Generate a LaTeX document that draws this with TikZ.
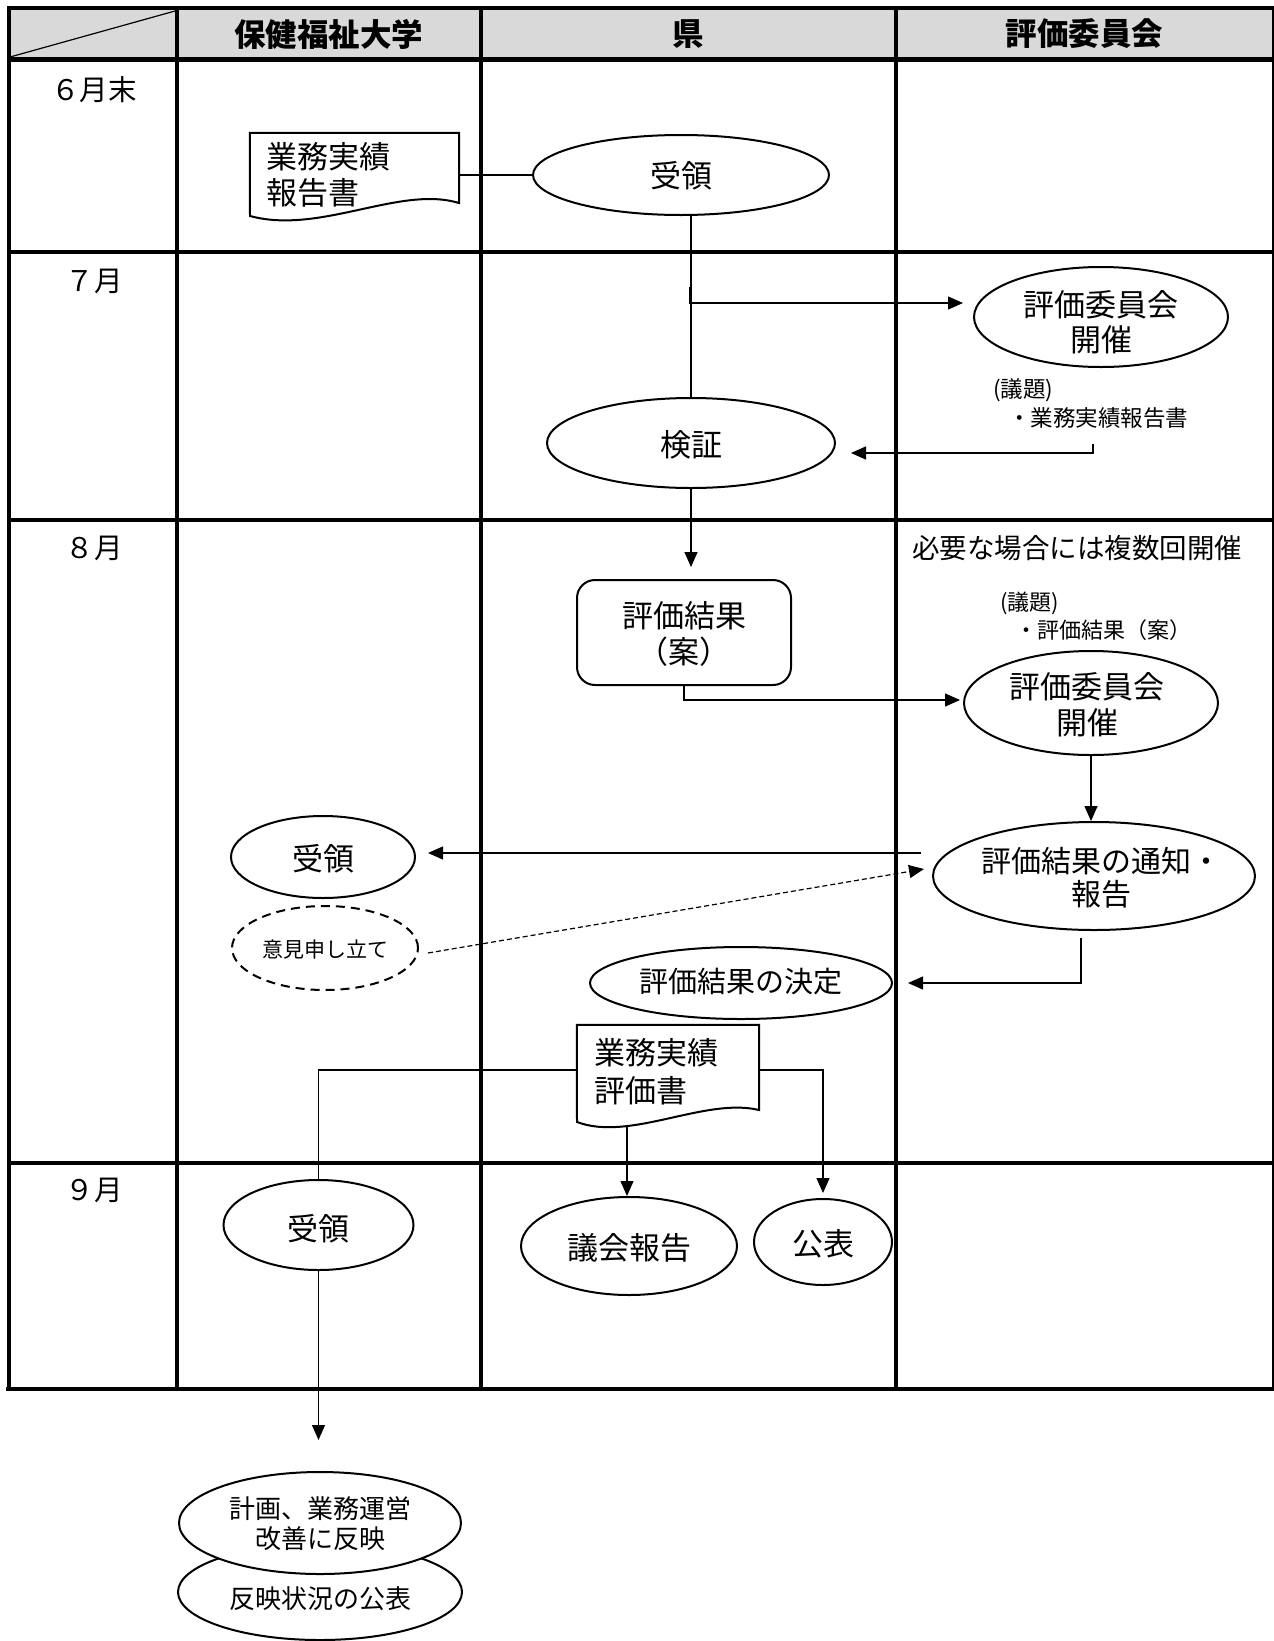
\documentclass[tikz,border=0pt]{standalone}
\usepackage{fontspec}
\setmainfont{Noto Sans CJK JP}
\usetikzlibrary{arrows.meta,shapes.geometric}
\begin{document}
\begin{tikzpicture}[x=1pt,y=-1pt,
  ell/.style={ellipse, draw, line width=2pt, fill=white, inner sep=0pt},
  con/.style={line width=1.2pt},
  arr/.style={con, -{Triangle[length=15pt,width=13pt]}},
  txt/.style={inner sep=0pt, align=center},
  f31/.style={font=\fontsize{31}{36}\selectfont},
  f29/.style={font=\fontsize{29}{32}\selectfont},
  f27/.style={font=\fontsize{28.5}{32}\selectfont},
  f26/.style={font=\fontsize{26}{30}\selectfont},
  f23/.style={font=\fontsize{22.5}{27}\selectfont},
  f21/.style={font=\fontsize{21}{25}\selectfont},
  hd/.style={inner sep=0pt, font=\fontsize{31.5}{36}\selectfont\bfseries},
  hline/.style={line width=4.5pt},
  vline/.style={line width=3.5pt}
]
\useasboundingbox (0,0) rectangle (1274,1641);
% header background
\fill[black!15] (9,8) rectangle (1273,59.5);
% grid
\draw[hline] (7,8) -- (1274,8);
\draw[hline] (7,59.5) -- (1274,59.5);
\draw[hline] (7,252) -- (1274,252);
\draw[hline] (7,520) -- (1274,520);
\draw[hline] (7,1163) -- (1274,1163);
\draw[hline] (6,1389) -- (1274,1389);
\draw[vline] (9,8) -- (9,1389);
\draw[vline] (177,8) -- (177,1389);
\draw[vline] (481,8) -- (481,1389);
\draw[vline] (896,8) -- (896,1389);
\draw[line width=2pt] (1273,8) -- (1273,1389);
\draw[line width=1.2pt] (10,57) -- (175,11);
% headers
\node[hd] (h1) at (328.5,34) {保健福祉大学};
\node[hd] (h2) at (688.5,34) {県};
\node[hd] (h3) at (1084.5,34) {評価委員会};
% months
\node[txt,f27] (m6) at (94,90) {６月末};
\node[txt,f27] (m7) at (94,281) {７月};
\node[txt,f27] (m8) at (94,548) {８月};
\node[txt,f27] (m9) at (94,1190) {９月};

% document 1
\node[minimum width=209pt, minimum height=84pt, inner sep=0pt] (rep) at (354.5,175) {};
\draw[line width=2pt] (rep.north west) -- (rep.north east) -- (459,203) .. controls (400,185) and (320,235) .. (250,216) -- cycle;
\node[txt,f31,align=left,anchor=west] (rep-t) at (266,175) {業務実績\\報告書};

% ellipses
\node[ell, minimum width=296pt, minimum height=80pt] (ju1) at (681,175) {};
\node[txt,f31] (ju1-t) at (681,176) {受領};
\node[ell, minimum width=254pt, minimum height=100pt] (iin1) at (1101,317) {};
\node[txt,f31,font=\fontsize{31}{35}\selectfont] (iin1-t) at (1101,322) {評価委員会\\開催};
\node[ell, minimum width=288pt, minimum height=90pt] (kensho) at (691,443) {};
\node[txt,f31] (kensho-t) at (691,445) {検証};

\node[txt,f23,anchor=west] (gi1) at (993,390) {(議題)};
\node[txt,f23,anchor=west] (gi1b) at (1008,418) {・業務実績報告書};

\node[txt,f27,font=\fontsize{27.5}{32}\selectfont,anchor=west] (note) at (912,548) {必要な場合には複数回開催};
\node[txt,f23,font=\fontsize{22}{27}\selectfont,anchor=west] (gi2) at (1000,603) {(議題)};
\node[txt,f23,font=\fontsize{22}{27}\selectfont,anchor=west] (gi2b) at (1015,630) {・評価結果（案）};

\node[draw, line width=2pt, rounded corners=18pt, minimum width=214pt, minimum height=105pt, inner sep=0pt] (box) at (684,632.5) {};
\node[txt,f31] (box-t) at (684,634) {評価結果\\（案）};

\node[ell, minimum width=254pt, minimum height=104pt] (iin2) at (1091,703) {};
\node[txt,f31,font=\fontsize{31}{36}\selectfont] (iin2-t) at (1087,705) {評価委員会\\開催};
\node[ell, minimum width=322pt, minimum height=108pt] (tsuchi) at (1094,876) {};
\node[txt,font=\fontsize{30}{33}\selectfont] (tsuchi-t) at (1101,878) {評価結果の通知・\\報告};
\node[ell, minimum width=184pt, minimum height=82pt] (ju8) at (323,857) {};
\node[txt,f31] (ju8-t) at (323,859) {受領};
\node[ell, dash pattern=on 9pt off 6pt, minimum width=186pt, minimum height=84pt] (iken) at (325,948) {};
\node[txt,f21] (iken-t) at (325,950) {意見申し立て};
\node[ell, minimum width=302pt, minimum height=72pt] (kettei) at (741,983) {};
\node[txt,f29] (kettei-t) at (741,982) {評価結果の決定};

% document 2
\node[minimum width=182pt, minimum height=90pt, inner sep=0pt] (evd) at (668,1070) {};
\draw[line width=2pt] (evd.north west) -- (evd.north east) -- (759,1110) .. controls (705,1097) and (630,1142) .. (577,1122) -- cycle;
\node[txt,f31,font=\fontsize{31}{38}\selectfont,align=left,anchor=west] (evd-t) at (594,1072) {業務実績\\評価書};

\node[ell, minimum width=190pt, minimum height=90pt] (ju9) at (318.5,1225) {};
\node[txt,f31] (ju9-t) at (318.5,1229) {受領};
\node[ell, minimum width=216pt, minimum height=98pt] (gikai) at (629,1246) {};
\node[txt,f31] (gikai-t) at (629,1248) {議会報告};
\node[ell, minimum width=138pt, minimum height=86pt] (kohyo) at (823,1242) {};
\node[txt,f31] (kohyo-t) at (823,1244) {公表};

\node[ell, minimum width=284pt, minimum height=96pt] (hanei2) at (320,1592) {};
\node[ell, minimum width=282pt, minimum height=102pt] (hanei1) at (320,1523) {};
\node[txt,f26] (hanei1-t) at (320,1524) {計画、業務運営\\改善に反映};
\node[txt,f26] (hanei2-t) at (320,1599) {反映状況の公表};

% connectors
\draw[con] (rep.east) -- (ju1.west);
\draw[con] (ju1.south -| kensho.north) -- (kensho.north);
\coordinate (br1) at (690,287);
\draw[arr, shorten >=10pt] (br1) |- ([yshift=14pt]iin1.west);
\coordinate (ag1) at (1093,444);
\draw[arr] (ag1) |- ([shift={(15pt,-10pt)}]kensho.east);
\draw[arr, shorten >=12pt] (kensho.south) -- (kensho.south |- box.north);
\draw[arr, shorten >=3pt] (box.south) |- ([yshift=3pt]iin2.west);
\draw[arr] (iin2.south) -- (iin2.south |- tsuchi.north);
\coordinate (t1) at ([shift={(-11pt,23pt)}]tsuchi.west);
\draw[arr, shorten >=12pt] (t1) -- (t1 -| ju8.east);
\draw[arr, dash pattern=on 5pt off 3pt] ([shift={(9pt,-5pt)}]iken.east) -- ([shift={(-8pt,7pt)}]tsuchi.west);
\coordinate (t2) at ([shift={(-13pt,-7pt)}]tsuchi.south);
\draw[arr, shorten >=15pt] (t2) |- (kettei.east);
\draw[con] (evd.west) -| (ju9.north);
\draw[arr, shorten >=5pt] (evd.east) -| (kohyo.north);
\coordinate (evdb) at (627,1126);
\draw[arr] (evdb) -- (evdb |- gikai.north);
\draw[arr, shorten >=31pt] (ju9.south) -- (ju9.south |- hanei1.north);
\end{tikzpicture}
\end{document}
